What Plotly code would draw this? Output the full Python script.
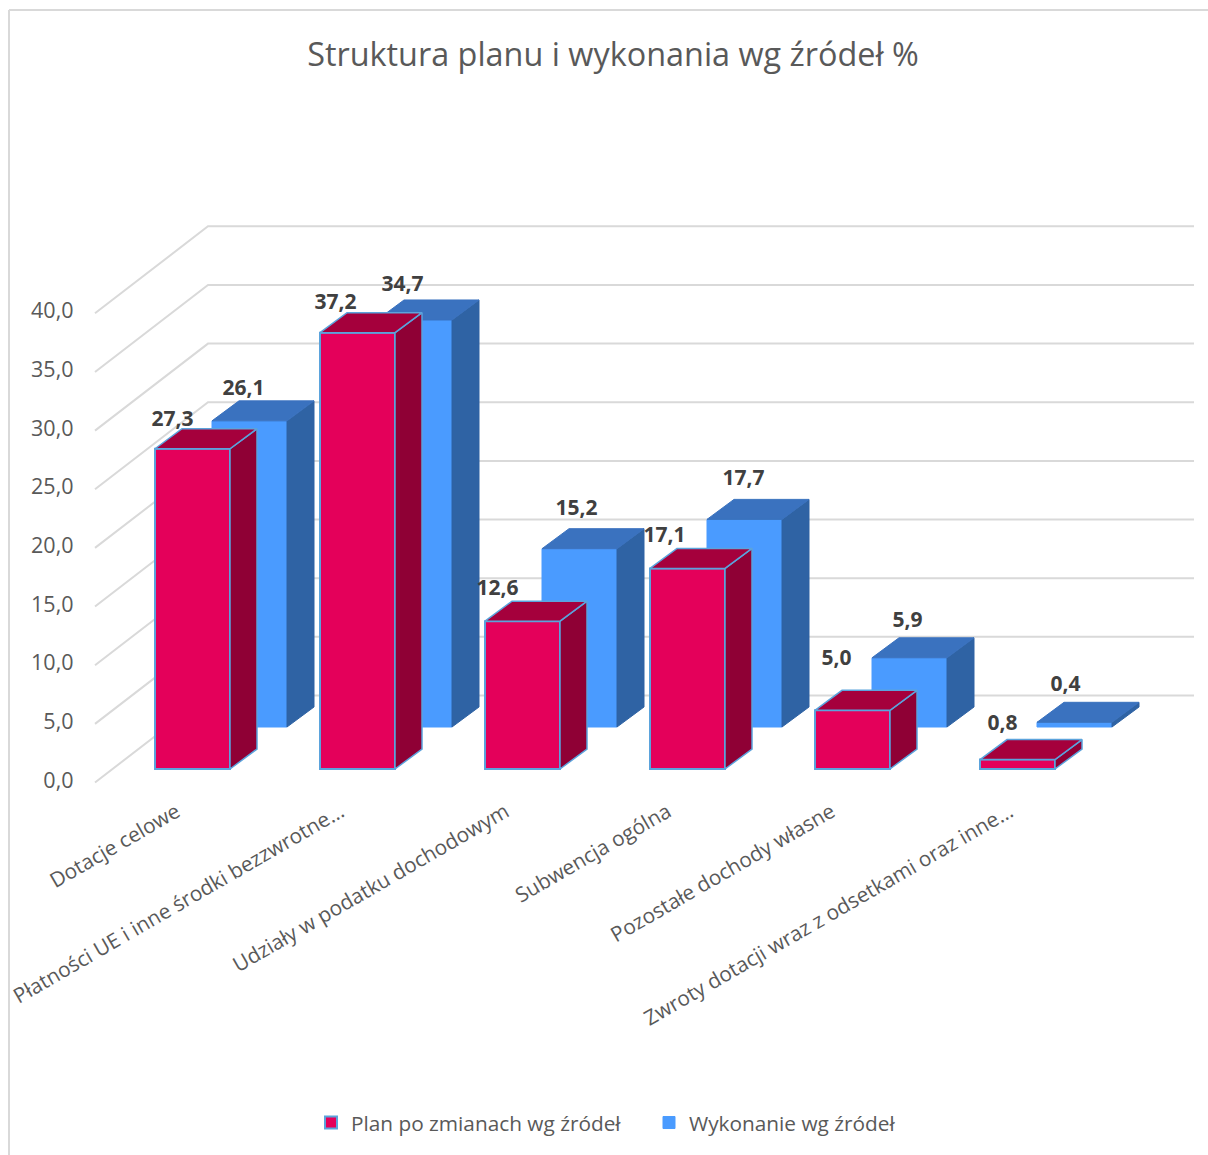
import plotly.graph_objects as go

categories = ["Dotacje celowe", "Płatności UE i inne środki bezzwrotne…", "Udziały w podatku dochodowym",
              "Subwencja ogólna", "Pozostałe dochody własne", "Zwroty dotacji wraz z odsetkami oraz inne…"]
plan = [27.3, 37.2, 12.6, 17.1, 5.0, 0.8]
wykonanie = [26.1, 34.7, 15.2, 17.7, 5.9, 0.4]
plan_labels = ["27,3", "37,2", "12,6", "17,1", "5,0", "0,8"]
wyk_labels = ["26,1", "34,7", "15,2", "17,7", "5,9", "0,4"]
y_ticks = [0, 5, 10, 15, 20, 25, 30, 35, 40]
y_tick_text = ["0,0", "5,0", "10,0", "15,0", "20,0", "25,0", "30,0", "35,0", "40,0"]

W, H = 1208, 1155
PLOT_BOTTOM = 795
PX_X = 165.0      # pixels per category
PX_Y = 11.73      # pixels per value unit
X0 = 192.5        # pixel of first front-series bar centre
Y0 = 769.0        # pixel of front-series floor
TICK_Y0 = 780.0   # pixel of the value 0 on the labelled axis
BAR_W = 75 / PX_X
DEPTH_X, DEPTH_Y = 27 / PX_X, 20 / PX_Y      # bar depth
BACK_X, BACK_Y = 57 / PX_X, 42 / PX_Y        # shift of rear series
WALL_X, WALL_Y = (208 - X0) / PX_X, (TICK_Y0 - 695.5) / PX_Y   # back wall corner on labelled axis
LEFT_X = (95 - X0) / PX_X
LEFT_DROP = 87 / PX_Y
RIGHT_X = (1194 - X0) / PX_X
# horizontal placement of the slanted category labels (px from the bar centre)
label_shift = [-16, -17, -17, -20, -21, -8]

x_range = [-X0 / PX_X, (W - X0) / PX_X]
y_range = [(Y0 - PLOT_BOTTOM) / PX_Y, Y0 / PX_Y]
y_tick_range = [(TICK_Y0 - PLOT_BOTTOM) / PX_Y, TICK_Y0 / PX_Y]

# label offsets relative to the bar's front top corner centre (px)
plan_lab_dx = [-20, -22, -25, -23, -16, -15]
plan_lab_dy = [28, 29, 31, 32, 51, 35]
wyk_lab_dx = [-6, -12, -3, -1, -2, -9]
wyk_lab_dy = [31, 34, 39, 40, 36, 37]

GRID = "#D9D9D9"
EDGE = "#5BA3DC"
TEXT = "#595959"
FONT = "Open Sans"


def faces(values, xshift, base):
    top_x, top_y, side_x, side_y = [], [], [], []
    for i, v in enumerate(values):
        l, r = i + xshift - BAR_W / 2, i + xshift + BAR_W / 2
        t = base + v
        top_x += [l, r, r + DEPTH_X, l + DEPTH_X, l, None]
        top_y += [t, t, t + DEPTH_Y, t + DEPTH_Y, t, None]
        side_x += [r, r + DEPTH_X, r + DEPTH_X, r, r, None]
        side_y += [base, base + DEPTH_Y, t + DEPTH_Y, t, base, None]
    return top_x, top_y, side_x, side_y


fig = go.Figure()

# --- walls / gridlines
gx, gy = [], []
for t in y_ticks:
    wy = WALL_Y + t
    gx += [LEFT_X, WALL_X, RIGHT_X, None]
    gy += [wy - LEFT_DROP, wy, wy, None]
fig.add_trace(go.Scatter(x=gx, y=gy, mode="lines", line=dict(color=GRID, width=2),
                         hoverinfo="skip", showlegend=False, xaxis="x", yaxis="y"))

# --- rear series
xs = list(range(len(categories)))
fig.add_trace(go.Bar(x=[i + BACK_X for i in xs], y=wykonanie, base=BACK_Y, width=BAR_W,
                     name="Wykonanie wg źródeł", legendrank=2,
                     marker=dict(color="#4A9BFF", line=dict(color="#4A9BFF", width=1)),
                     xaxis="x2", yaxis="y2"))
tx, ty, sx, sy = faces(wykonanie, BACK_X, BACK_Y)
for fx, fy, col in ((sx, sy, "#2F63A4"), (tx, ty, "#3A72BF")):
    fig.add_trace(go.Scatter(x=fx, y=fy, mode="lines", fill="toself", fillcolor=col,
                             line=dict(color=col, width=1), hoverinfo="skip", showlegend=False,
                             xaxis="x2", yaxis="y2"))

# --- front series
fig.add_trace(go.Bar(x=xs, y=plan, base=0, width=BAR_W,
                     name="Plan po zmianach wg źródeł", legendrank=1,
                     marker=dict(color="#E4005A", line=dict(color=EDGE, width=2)),
                     xaxis="x3", yaxis="y3"))
tx, ty, sx, sy = faces(plan, 0, 0)
for fx, fy, col in ((sx, sy, "#8F0035"), (tx, ty, "#A5003C")):
    fig.add_trace(go.Scatter(x=fx, y=fy, mode="lines", fill="toself", fillcolor=col,
                             line=dict(color=EDGE, width=1.5), hoverinfo="skip", showlegend=False,
                             xaxis="x3", yaxis="y3"))

# --- data labels
fig.add_trace(go.Scatter(
    x=[i + d / PX_X for i, d in zip(xs, plan_lab_dx)] + [i + BACK_X + d / PX_X for i, d in zip(xs, wyk_lab_dx)],
    y=[v + d / PX_Y for v, d in zip(plan, plan_lab_dy)] + [BACK_Y + v + d / PX_Y for v, d in zip(wykonanie, wyk_lab_dy)],
    text=plan_labels + wyk_labels, mode="text", textposition="middle center",
    textfont=dict(family=FONT, size=21, color="#404040", weight="bold"),
    hoverinfo="skip", showlegend=False, xaxis="x3", yaxis="y3"))

hidden = dict(visible=False, fixedrange=True)
fig.update_layout(
    width=W, height=H, margin=dict(l=0, r=0, t=0, b=H - PLOT_BOTTOM, autoexpand=False),
    paper_bgcolor="white", plot_bgcolor="rgba(0,0,0,0)", barmode="overlay",
    font=dict(family=FONT, color=TEXT),
    title=dict(text="Struktura planu i wykonania wg źródeł %", x=613 / W, xanchor="center",
               y=1 - 55 / H, yanchor="middle", font=dict(family=FONT, size=32.4, color=TEXT)),
    xaxis=dict(range=x_range, domain=[0, 1], tickmode="array",
               tickvals=[i + d / PX_X for i, d in zip(xs, label_shift)],
               ticktext=categories, tickangle=-30, showgrid=False, zeroline=False, showline=False, ticks="",
               ticklabelstandoff=0, tickfont=dict(family=FONT, size=20.8, color=TEXT),
               automargin=False, fixedrange=True),
    yaxis=dict(range=y_tick_range, domain=[0, 1], tickmode="array", tickvals=y_ticks, ticktext=y_tick_text,
               anchor="free", position=73.5 / W, showgrid=False, zeroline=False, showline=False, ticks="",
               tickfont=dict(family=FONT, size=21.5, color=TEXT), automargin=False, fixedrange=True),
    xaxis2=dict(range=x_range, overlaying="x", **hidden),
    yaxis2=dict(range=y_range, overlaying="y", **hidden),
    xaxis3=dict(range=x_range, overlaying="x", **hidden),
    yaxis3=dict(range=y_range, overlaying="y", **hidden),
    legend=dict(orientation="h", xref="container", yref="container", x=311 / W, xanchor="left",
                y=1 - 1123 / H, yanchor="middle", font=dict(family=FONT, size=20.8, color=TEXT),
                traceorder="normal", itemclick=False, itemdoubleclick=False,
                entrywidth=293, entrywidthmode="pixels"),
    shapes=[
        dict(type="line", xref="paper", yref="paper", x0=9 / W, x1=9 / W, y0=(PLOT_BOTTOM - H) / PLOT_BOTTOM,
             y1=(PLOT_BOTTOM - 10) / PLOT_BOTTOM, line=dict(color=GRID, width=2)),
        dict(type="line", xref="paper", yref="paper", x0=9 / W, x1=1, y0=(PLOT_BOTTOM - 10) / PLOT_BOTTOM,
             y1=(PLOT_BOTTOM - 10) / PLOT_BOTTOM, line=dict(color=GRID, width=2)),
    ],
)
fig.write_html("out.html", post_script="document.body.style.margin='0';", config={"displayModeBar": False})
